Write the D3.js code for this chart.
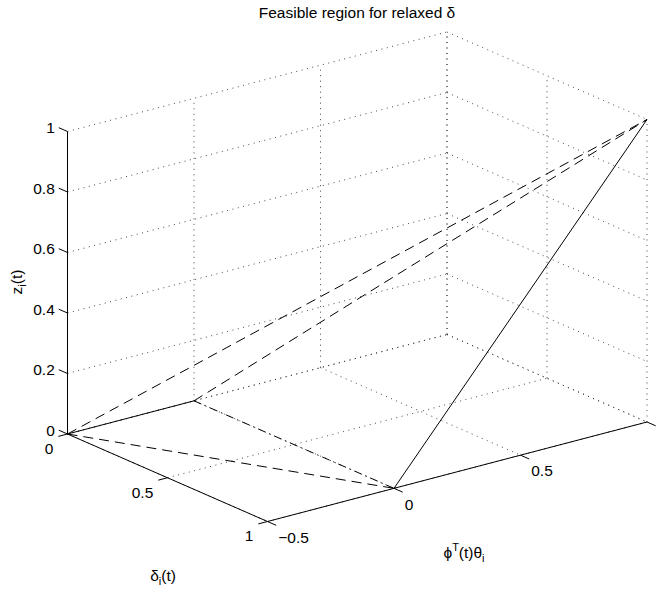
<!DOCTYPE html>
<html>
<head>
<meta charset="utf-8">
<script src="https://cdn.jsdelivr.net/npm/d3@7"></script>
<style>
  html, body { margin: 0; padding: 0; background: #fff; }
  svg text { font-family: "Liberation Sans", Arial, Helvetica, sans-serif; fill: #000; }
</style>
</head>
<body>
<svg id="chart" width="659" height="592"></svg>
<script>
// ---------------- data ----------------
const titleText = "Feasible region for relaxed δ";
const phiDomain = [-0.5, 1];
const deltaDomain = [0, 1];
const zDomain = [0, 1];
const phiTicks = [-0.5, 0, 0.5, 1];
const phiTickLabels = ["\u22120.5", "0", "0.5", ""];
const deltaTicks = [0, 0.5, 1];
const deltaTickLabels = ["0", "0.5", "1"];
const zTicks = [0, 0.2, 0.4, 0.6, 0.8, 1];
const zTickLabels = ["0", "0.2", "0.4", "0.6", "0.8", "1"];

// plotted segments (start/end in phi, delta, z)
const segPhi   = [[-0.5, 0], [0, 0], [-0.5, 0], [0, 1], [-0.5, 1], [0, 1]];
const segDelta = [[0, 0],    [0, 1], [0, 1],    [1, 1], [0, 1],    [0, 1]];
const segZ     = [[0, 0],    [0, 0], [0, 0],    [0, 1], [0, 1],    [0, 1]];
const segKind  = ["solid", "dashdot", "dashed", "solid", "dashed", "dashed"];

// ---------------- layout ----------------
const origin = [67.5, 434];
const phiX = d3.scaleLinear().domain(phiDomain).range([0, 379.5]);
const phiY = d3.scaleLinear().domain(phiDomain).range([0, -99.5]);
const delX = d3.scaleLinear().domain(deltaDomain).range([0, 200]);
const delY = d3.scaleLinear().domain(deltaDomain).range([0, 87.5]);
const zY   = d3.scaleLinear().domain(zDomain).range([0, -302.5]);
function proj(p, d, z) {
  return [origin[0] + phiX(p) + delX(d), origin[1] + phiY(p) + delY(d) + zY(z)];
}
function unit(v) { const l = Math.hypot(v[0], v[1]); return [v[0] / l, v[1] / l]; }
const dirDelta = unit([delX(1) - delX(0), delY(1) - delY(0)]);
const dirPhi = unit([phiX(1) - phiX(0), phiY(1) - phiY(0)]);
const tickLen = 9.5;
const dashStyles = { solid: null, dashed: "10,6", dashdot: "8,4,1.5,4" };
const fontSize = 15.5;

const svg = d3.select("#chart");
const line = d3.line();

// ---------------- grid (back planes) ----------------
const grid = [];
const [p0, p1] = phiDomain, [d0, d1] = deltaDomain, [z0, z1] = zDomain;
// back wall delta = 0
phiTicks.forEach(p => grid.push([proj(p, d0, z0), proj(p, d0, z1)]));
zTicks.forEach(z => grid.push([proj(p0, d0, z), proj(p1, d0, z)]));
// side wall phi = max
deltaTicks.forEach(d => grid.push([proj(p1, d, z0), proj(p1, d, z1)]));
zTicks.forEach(z => grid.push([proj(p1, d0, z), proj(p1, d1, z)]));
// floor z = 0
phiTicks.forEach(p => grid.push([proj(p, d0, z0), proj(p, d1, z0)]));
deltaTicks.forEach(d => grid.push([proj(p0, d, z0), proj(p1, d, z0)]));

svg.append("g").selectAll("path").data(grid).join("path")
  .attr("d", d => line(d))
  .attr("fill", "none")
  .attr("stroke", "#333")
  .attr("stroke-width", 0.9)
  .attr("stroke-dasharray", "1,4.5");

// ---------------- axes ----------------
const axes = [
  [proj(p0, d0, z0), proj(p0, d0, z1)],
  [proj(p0, d0, z0), proj(p0, d1, z0)],
  [proj(p0, d1, z0), proj(p1, d1, z0)]
];
svg.append("g").selectAll("path").data(axes).join("path")
  .attr("d", d => line(d)).attr("fill", "none")
  .attr("stroke", "#000").attr("stroke-width", 1);

const gT = svg.append("g");
// z ticks
zTicks.forEach((z, i) => {
  const a = proj(p0, d0, z);
  const b = [a[0] - dirDelta[0] * tickLen, a[1] - dirDelta[1] * tickLen];
  gT.append("path").attr("d", line([a, b])).attr("stroke", "#000").attr("stroke-width", 1);
  gT.append("text").attr("x", b[0] - 4).attr("y", b[1]).attr("dy", "0.35em")
    .attr("text-anchor", "end").attr("font-size", fontSize).text(zTickLabels[i]);
});
// delta ticks
deltaTicks.forEach((d, i) => {
  const a = proj(p0, d, z0);
  const b = [a[0] - dirPhi[0] * tickLen, a[1] - dirPhi[1] * tickLen];
  gT.append("path").attr("d", line([a, b])).attr("stroke", "#000").attr("stroke-width", 1);
  gT.append("text").attr("x", b[0] - 5).attr("y", b[1] + 12).attr("dy", "0.35em")
    .attr("text-anchor", "end").attr("font-size", fontSize).text(deltaTickLabels[i]);
});
// phi ticks
phiTicks.forEach((p, i) => {
  const a = proj(p, d1, z0);
  const b = [a[0] + dirDelta[0] * tickLen, a[1] + dirDelta[1] * tickLen];
  gT.append("path").attr("d", line([a, b])).attr("stroke", "#000").attr("stroke-width", 1);
  gT.append("text").attr("x", b[0] + 2).attr("y", b[1] + 12).attr("dy", "0.35em")
    .attr("text-anchor", "start").attr("font-size", fontSize).text(phiTickLabels[i]);
});

// ---------------- data segments ----------------
const segs = segPhi.map((p, i) => ({
  pts: [proj(p[0], segDelta[i][0], segZ[i][0]), proj(p[1], segDelta[i][1], segZ[i][1])],
  kind: segKind[i]
}));
svg.append("g").selectAll("path").data(segs).join("path")
  .attr("d", d => line(d.pts))
  .attr("fill", "none")
  .attr("stroke", "#000")
  .attr("stroke-width", 1)
  .attr("stroke-dasharray", d => dashStyles[d.kind]);

// ---------------- title & labels ----------------
svg.append("text").attr("x", 357).attr("y", 18).attr("text-anchor", "middle")
  .attr("font-size", fontSize).text(titleText);

const subSize = 11;
// x label: phi^T(t) theta_i
const xl = svg.append("text").attr("x", 464).attr("y", 558).attr("text-anchor", "middle").attr("font-size", fontSize);
xl.append("tspan").text("\u03D5");
xl.append("tspan").attr("font-size", subSize).attr("dy", -7).text("T");
xl.append("tspan").attr("dy", 7).text("(t)θ");
xl.append("tspan").attr("font-size", subSize).attr("dy", 4).text("i");

// delta label
const dl = svg.append("text").attr("x", 163).attr("y", 581).attr("text-anchor", "middle").attr("font-size", fontSize);
dl.append("tspan").text("δ");
dl.append("tspan").attr("font-size", subSize).attr("dy", 4).text("i");
dl.append("tspan").attr("dy", -4).text("(t)");

// z label (rotated)
const zl = svg.append("text").attr("transform", "translate(22,282) rotate(-90)")
  .attr("text-anchor", "middle").attr("font-size", fontSize);
zl.append("tspan").text("z");
zl.append("tspan").attr("font-size", subSize).attr("dy", 4).text("i");
zl.append("tspan").attr("dy", -4).text("(t)");
</script>
</body>
</html>
